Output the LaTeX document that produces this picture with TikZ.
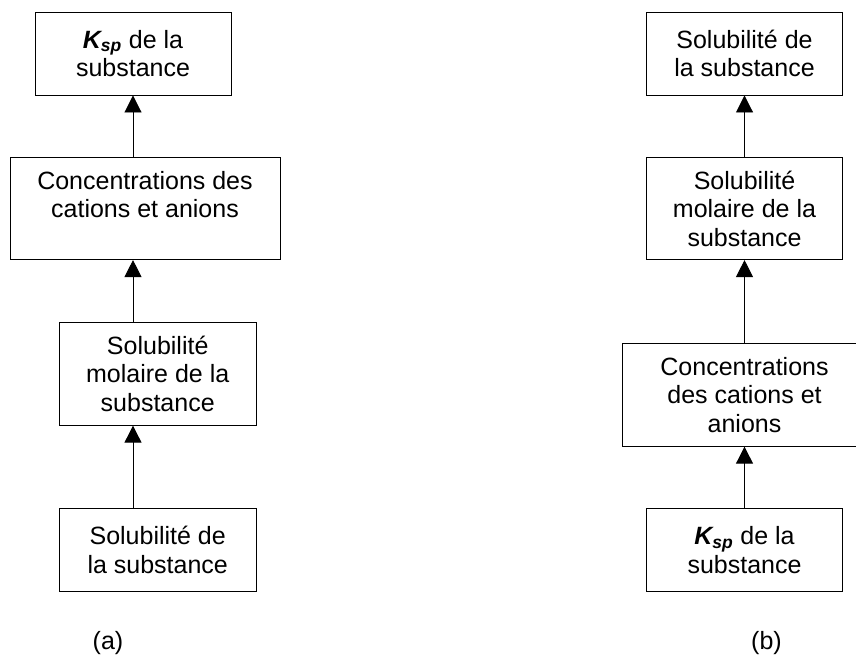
\documentclass[tikz,border=0pt]{standalone}
\usepackage{fontspec}
\setmainfont{Liberation Sans}
\usetikzlibrary{arrows.meta,positioning}
\tikzset{
  box/.style={rectangle, draw, line width=0.9pt, minimum width=196pt, minimum height=83pt, align=center, inner sep=2pt, font=\fontsize{25}{28.5}\selectfont},
  tall/.style={box, minimum height=102pt},
  arr/.style={-{Triangle[length=17pt,width=17pt]}, line width=0.9pt},
  sublabel/.style={font=\fontsize{25}{28.5}\selectfont}
}
\newcommand{\kspsym}{\textbf{\textit{K\textsubscript{sp}}}}

\begin{document}
\begin{tikzpicture}[x=1pt, y=-1pt]
\useasboundingbox (0,0) rectangle (856,657);
% (a)
\node[box] (kspA) at (133,53.5) {\kspsym{} de la\\substance};
\node[tall, below=61.7pt of kspA, xshift=12pt, minimum width=270pt] (concA) {Concentrations des\\cations et anions\\\mbox{}};
\node[tall, below=61.7pt of concA, xshift=12.7pt, minimum width=197pt, minimum height=103pt] (molA) {Solubilit\'e\\molaire de la\\substance};
\node[box, below=82.3pt of molA, minimum width=197pt] (solA) {Solubilit\'e de\\la substance};
\node[sublabel] (labA) at (108,643) {(a)};

\draw[arr] (concA.north -| kspA.south) -- (kspA.south);
\draw[arr] (molA.north -| kspA.south) -- (concA.south -| kspA.south);
\draw[arr] (solA.north -| kspA.south) -- (molA.south -| kspA.south);

% (b)
\node[box] (solB) at (744.5,53.5) {Solubilit\'e de\\la substance};
\node[tall, below=61.7pt of solB] (molB) {Solubilit\'e\\molaire de la\\substance};
\node[tall, below=82.7pt of molB, minimum width=245pt, minimum height=103pt] (concB) {Concentrations\\des cations et\\anions};
\node[box, below=61.7pt of concB] (kspB) {\kspsym{} de la\\substance};
\node[sublabel] (labB) at (766.5,643) {(b)};

\draw[arr] (molB) -- (solB);
\draw[arr] (concB) -- (molB);
\draw[arr] (kspB) -- (concB);
\end{tikzpicture}
\end{document}
